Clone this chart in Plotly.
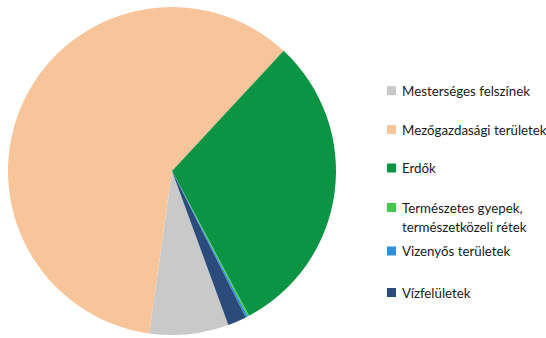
import plotly.graph_objects as go

# Land cover shares (%)
labels = [
    "Mesterséges felszínek",
    "Mezőgazdasági területek",
    "Erdők",
    "Természetes gyepek,<br>természetközeli rétek",
    "Vizenyős területek",
    "Vízfelületek",
]
legend_lines = [
    ["Mesterséges felszínek"],
    ["Mezőgazdasági területek"],
    ["Erdők"],
    ["Természetes gyepek,", "természetközeli rétek"],
    ["Vizenyős területek"],
    ["Vízfelületek"],
]
values = [7.8, 59.7, 30.3, 0.15, 0.2, 1.85]
colors = ["#C9C9C9", "#F8C59B", "#0B9444", "#45C74C", "#2C90DA", "#2A4B7C"]

W, H = 546, 338

fig = go.Figure(
    go.Pie(
        labels=labels,
        values=values,
        marker=dict(colors=colors, line=dict(width=0)),
        sort=False,
        direction="clockwise",
        rotation=159.9,
        textinfo="none",
        hoverinfo="label+percent",
        showlegend=False,
        domain=dict(x=[8 / W, 336 / W], y=[3 / H, 331 / H]),
    )
)

# Legend drawn as swatches and text, one row per category
row_y = [90.7, 129.5, 168, 207.5, 251, 292.5]
line_gap = 19.2
for name_lines, col, yc in zip(legend_lines, colors, row_y):
    fig.add_shape(
        type="rect", xref="paper", yref="paper",
        x0=387 / W, x1=396 / W,
        y0=1 - (yc + 4.5) / H, y1=1 - (yc - 4.5) / H,
        fillcolor=col, line=dict(width=0),
    )
    for k, txt in enumerate(name_lines):
        fig.add_annotation(
            x=400 / W, y=1 - (yc + k * line_gap) / H,
            xref="paper", yref="paper",
            xanchor="left", yanchor="middle",
            text=txt, showarrow=False,
            font=dict(family="Lato", size=13.3, color="#1A1A1A"),
        )

fig.update_layout(
    width=W, height=H,
    margin=dict(l=0, r=0, t=0, b=0),
    paper_bgcolor="white",
    plot_bgcolor="white",
)

fig.write_html("out.html")
